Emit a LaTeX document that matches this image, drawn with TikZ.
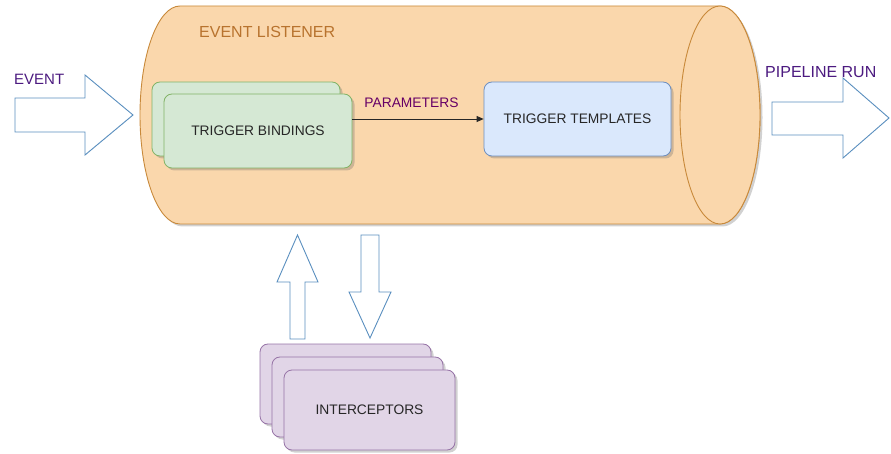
\documentclass[tikz,border=0pt]{standalone}
\usepackage{fontspec}
\setmainfont{Liberation Sans}
\usetikzlibrary{shadows,arrows.meta}
\definecolor{cylfill}{HTML}{FAD7AC}
\definecolor{cylline}{HTML}{C8893A}
\definecolor{cyltext}{HTML}{B8732E}
\definecolor{grfill}{HTML}{D5E8D4}
\definecolor{grline}{HTML}{82B366}
\definecolor{blfill}{HTML}{DAE8FC}
\definecolor{blline}{HTML}{6C8EBF}
\definecolor{pufill}{HTML}{E1D5E7}
\definecolor{puline}{HTML}{9673A6}
\definecolor{arrline}{HTML}{5A8FBF}
\definecolor{labtext}{HTML}{4C1A80}
\definecolor{partext}{HTML}{660066}
\tikzset{
  shad/.style={drop shadow={shadow xshift=2.5pt,shadow yshift=-2.5pt,opacity=0.3,fill=black!60}},
  boxbase/.style={rectangle,rounded corners=8pt,line width=0.8pt,shad,
    font=\fontsize{13.8}{16}\selectfont,text=black!85,inner sep=0pt},
  greenbox/.style={boxbase,fill=grfill,draw=grline,minimum width=188pt,minimum height=74pt},
  bluebox/.style={boxbase,fill=blfill,draw=blline,minimum width=187pt,minimum height=74pt},
  purplebox/.style={boxbase,fill=pufill,draw=puline,minimum width=171pt,minimum height=80pt},
  blockarrow/.style={fill=white,draw=arrline,line width=0.9pt,line join=miter},
  cyl/.style={fill=cylfill,draw=cylline,line width=0.9pt},
  biglabel/.style={font=\fontsize{16}{18}\selectfont,inner sep=0pt,anchor=west},
  conn/.style={draw=black!85,line width=0.8pt,-{Triangle[length=7pt,width=6pt]}}
}
\begin{document}
\begin{tikzpicture}[x=1pt,y=1pt]
\useasboundingbox (0,0) rectangle (891,-454);
% cylinder
\path[cyl,shad] (180,-6) -- (720,-6) arc[start angle=90,end angle=-90,x radius=40pt,y radius=109pt]
  -- (180,-224) arc[start angle=270,end angle=90,x radius=40pt,y radius=109pt] -- cycle;
\draw[cyl] (720,-115) ellipse[x radius=40pt,y radius=109pt];
\node[biglabel,text=cyltext] (el) at (199,-32) {EVENT LISTENER};
% trigger bindings
\node[greenbox] (tbback) at (246,-119) {};
\node[greenbox] (tb) at (258,-131) {TRIGGER BINDINGS};
% trigger templates
\node[bluebox] (tt) at (577.5,-119) {TRIGGER TEMPLATES};
\draw[conn] (tb.east |- tt.west) -- node[pos=0.45,above=8pt,inner sep=3.33pt,text=partext,font=\fontsize{13.8}{16}\selectfont] (par) {PARAMETERS} (tt.west);
% interceptors
\node[purplebox] (ic3) at (345.5,-384) {};
\node[purplebox] (ic2) at (357.5,-397) {};
\node[purplebox] (ic) at (369.5,-410) {INTERCEPTORS};
% block arrows
\draw[blockarrow] (15,-98) -- (85,-98) -- (85,-75) -- (133,-115) -- (85,-155) -- (85,-132) -- (15,-132) -- cycle;
\node[biglabel,text=labtext,font=\fontsize{15}{17}\selectfont] (ev) at (14,-79) {EVENT};
\draw[blockarrow] (772,-102) -- (843,-102) -- (843,-78) -- (889,-118) -- (843,-158) -- (843,-135) -- (772,-135) -- cycle;
\node[biglabel,text=labtext] (pr) at (765,-72) {PIPELINE RUN};
\draw[blockarrow] (290,-339) -- (290,-282) -- (277,-282) -- (297.5,-235) -- (318,-282) -- (305,-282) -- (305,-339) -- cycle;
\draw[blockarrow] (361,-235) -- (379,-235) -- (379,-292) -- (391,-292) -- (370,-338) -- (349,-292) -- (361,-292) -- cycle;
\end{tikzpicture}
\end{document}
